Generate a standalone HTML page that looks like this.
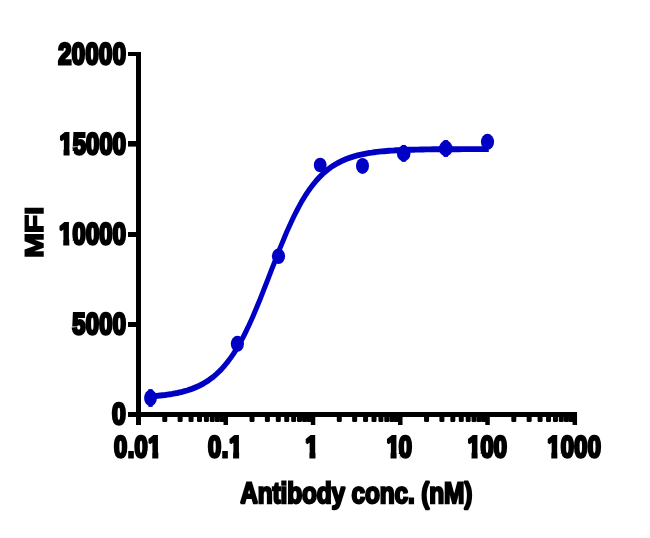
<!DOCTYPE html>
<html lang="en">
<head>
<meta charset="utf-8">
<title>Antibody binding curve</title>
<style>
html,body{margin:0;padding:0;background:#fff;}
body{width:650px;height:538px;overflow:hidden;}
svg{display:block;}
text{font-family:"Liberation Sans",Arial,Helvetica,sans-serif;font-weight:bold;fill:#000;stroke:#000;stroke-linejoin:miter;stroke-miterlimit:1.5;text-rendering:geometricPrecision;}
</style>
</head>
<body>
<svg width="650" height="538" viewBox="0 0 650 538">
<rect width="650" height="538" fill="#fff"/>
<g id="series" fill="#0000c4">
<path transform="scale(0.83,1)" d="M181.3,396.3 L184.3,396.2 L187.2,396.0 L190.1,395.8 L193.1,395.5 L196.0,395.2 L198.9,395.0 L201.9,394.6 L204.8,394.3 L207.7,393.9 L210.6,393.4 L213.6,393.0 L216.5,392.4 L219.4,391.9 L222.4,391.2 L225.3,390.5 L228.2,389.7 L231.2,388.9 L234.1,387.9 L237.0,386.9 L240.0,385.8 L242.9,384.5 L245.8,383.2 L248.8,381.7 L251.7,380.1 L254.6,378.3 L257.6,376.4 L260.5,374.3 L263.4,372.0 L266.4,369.6 L269.3,366.9 L272.2,364.0 L275.2,360.9 L278.1,357.6 L281.0,354.1 L284.0,350.3 L286.9,346.2 L289.8,341.9 L292.8,337.4 L295.7,332.6 L298.6,327.6 L301.5,322.3 L304.5,316.9 L307.4,311.2 L310.3,305.4 L313.3,299.4 L316.2,293.3 L319.1,287.1 L322.1,280.8 L325.0,274.5 L327.9,268.2 L330.9,261.9 L333.8,255.7 L336.7,249.5 L339.7,243.5 L342.6,237.6 L345.5,231.9 L348.5,226.4 L351.4,221.1 L354.3,216.0 L357.3,211.1 L360.2,206.5 L363.1,202.1 L366.1,198.0 L369.0,194.1 L371.9,190.5 L374.9,187.1 L377.8,184.0 L380.7,181.0 L383.7,178.3 L386.6,175.8 L389.5,173.4 L392.5,171.3 L395.4,169.3 L398.3,167.5 L401.2,165.8 L404.2,164.3 L407.1,162.9 L410.0,161.7 L413.0,160.5 L415.9,159.4 L418.8,158.5 L421.8,157.6 L424.7,156.8 L427.6,156.1 L430.6,155.4 L433.5,154.8 L436.4,154.3 L439.4,153.8 L442.3,153.3 L445.2,152.9 L448.2,152.6 L451.1,152.2 L454.0,151.9 L457.0,151.6 L459.9,151.4 L462.8,151.2 L465.8,151.0 L468.7,150.8 L471.6,150.6 L474.6,150.5 L477.5,150.3 L480.4,150.2 L483.4,150.1 L486.3,150.0 L489.2,149.9 L492.1,149.8 L495.1,149.8 L498.0,149.7 L500.9,149.6 L503.9,149.6 L506.8,149.5 L509.7,149.5 L512.7,149.4 L515.6,149.4 L518.5,149.4 L521.5,149.3 L524.4,149.3 L527.3,149.3 L530.3,149.3 L533.2,149.3 L536.1,149.2 L539.1,149.2 L542.0,149.2 L544.9,149.2 L547.9,149.2 L550.8,149.2 L553.7,149.2 L556.7,149.1 L559.6,149.1 L562.5,149.1 L565.5,149.1 L568.4,149.1 L571.3,149.1 L574.3,149.1 L577.2,149.1 L580.1,149.1 L583.1,149.1 L586.0,149.1 L588.9,149.1" fill="none" stroke="#0000c4" stroke-width="5.9" stroke-linejoin="round"/>
<ellipse cx="150.5" cy="398" rx="6.4" ry="8.2"/>
<rect x="148.4" y="389.10" width="4.2" height="17.80"/>
<ellipse cx="237.4" cy="343.8" rx="6.6" ry="8.0"/>
<ellipse cx="278.5" cy="256.2" rx="6.6" ry="7.7"/>
<ellipse cx="320.2" cy="165.0" rx="6.4" ry="7.3"/>
<ellipse cx="362.5" cy="165.9" rx="6.5" ry="8.0"/>
<ellipse cx="403.7" cy="153.4" rx="6.8" ry="7.9"/>
<rect x="401.6" y="144.95" width="4.2" height="16.90"/>
<ellipse cx="445.8" cy="148.5" rx="6.8" ry="7.9"/>
<rect x="443.7" y="140.05" width="4.2" height="16.90"/>
<ellipse cx="487.5" cy="141.8" rx="6.6" ry="8.0"/>
</g>
<g id="axes" fill="#000">
<rect x="136" y="52" width="5" height="373"/>
<rect x="128" y="412" width="449" height="5"/>
<rect x="128" y="52" width="9" height="4.00"/>
<rect x="128" y="141" width="9" height="5.60"/>
<rect x="128" y="232" width="9" height="5.00"/>
<rect x="128" y="322" width="9" height="5.00"/>
<rect x="162.27" y="414" width="5.0" height="8" rx="1.2"/>
<rect x="177.63" y="414" width="5.0" height="8" rx="1.2"/>
<rect x="188.54" y="414" width="5.0" height="8" rx="1.2"/>
<rect x="196.99" y="414" width="5.0" height="8" rx="1.2"/>
<rect x="203.90" y="414" width="5.0" height="8" rx="1.2"/>
<rect x="209.74" y="414" width="5.0" height="8" rx="1.2"/>
<rect x="214.80" y="414" width="5.0" height="8" rx="1.2"/>
<rect x="219.27" y="414" width="5.0" height="8" rx="1.2"/>
<rect x="223.51" y="414" width="4.5" height="11"/>
<rect x="249.53" y="414" width="5.0" height="8" rx="1.2"/>
<rect x="264.89" y="414" width="5.0" height="8" rx="1.2"/>
<rect x="275.80" y="414" width="5.0" height="8" rx="1.2"/>
<rect x="284.25" y="414" width="5.0" height="8" rx="1.2"/>
<rect x="291.16" y="414" width="5.0" height="8" rx="1.2"/>
<rect x="297.00" y="414" width="5.0" height="8" rx="1.2"/>
<rect x="302.06" y="414" width="5.0" height="8" rx="1.2"/>
<rect x="306.53" y="414" width="5.0" height="8" rx="1.2"/>
<rect x="310.77" y="414" width="4.5" height="11"/>
<rect x="336.79" y="414" width="5.0" height="8" rx="1.2"/>
<rect x="352.15" y="414" width="5.0" height="8" rx="1.2"/>
<rect x="363.06" y="414" width="5.0" height="8" rx="1.2"/>
<rect x="371.51" y="414" width="5.0" height="8" rx="1.2"/>
<rect x="378.42" y="414" width="5.0" height="8" rx="1.2"/>
<rect x="384.26" y="414" width="5.0" height="8" rx="1.2"/>
<rect x="389.32" y="414" width="5.0" height="8" rx="1.2"/>
<rect x="393.79" y="414" width="5.0" height="8" rx="1.2"/>
<rect x="398.03" y="414" width="4.5" height="11"/>
<rect x="424.05" y="414" width="5.0" height="8" rx="1.2"/>
<rect x="439.41" y="414" width="5.0" height="8" rx="1.2"/>
<rect x="450.32" y="414" width="5.0" height="8" rx="1.2"/>
<rect x="458.77" y="414" width="5.0" height="8" rx="1.2"/>
<rect x="465.68" y="414" width="5.0" height="8" rx="1.2"/>
<rect x="471.52" y="414" width="5.0" height="8" rx="1.2"/>
<rect x="476.58" y="414" width="5.0" height="8" rx="1.2"/>
<rect x="481.05" y="414" width="5.0" height="8" rx="1.2"/>
<rect x="485.29" y="414" width="4.5" height="11"/>
<rect x="511.31" y="414" width="5.0" height="8" rx="1.2"/>
<rect x="526.67" y="414" width="5.0" height="8" rx="1.2"/>
<rect x="537.58" y="414" width="5.0" height="8" rx="1.2"/>
<rect x="546.03" y="414" width="5.0" height="8" rx="1.2"/>
<rect x="552.94" y="414" width="5.0" height="8" rx="1.2"/>
<rect x="558.78" y="414" width="5.0" height="8" rx="1.2"/>
<rect x="563.84" y="414" width="5.0" height="8" rx="1.2"/>
<rect x="568.31" y="414" width="5.0" height="8" rx="1.2"/>
<rect x="572.55" y="414" width="4.5" height="11"/>
</g>
<g id="labels" font-size="29.8" stroke-width="2.9">
<g transform="translate(58.22,64.00) scale(0.796,1)"><text x="0.00 17.11 34.22 51.33 68.44" y="0">20000</text></g>
<g transform="translate(59.39,154.00) scale(0.796,1)"><text x="0.00 16.79 33.59 50.38 67.17" y="0">15000</text><rect x="-1.17" y="-5.69" width="6.38" height="8.94" fill="#fff"/><rect x="12.79" y="-5.69" width="3.87" height="2.79" fill="#fff"/><rect x="12.79" y="-3.00" width="5.47" height="6.25" fill="#fff"/></g>
<g transform="translate(59.10,244.00) scale(0.796,1)"><text x="0.00 16.84 33.68 50.52 67.36" y="0">10000</text><rect x="-1.17" y="-5.69" width="6.38" height="8.94" fill="#fff"/><rect x="12.79" y="-5.69" width="4.17" height="2.79" fill="#fff"/><rect x="12.79" y="-3.00" width="5.51" height="6.25" fill="#fff"/></g>
<g transform="translate(72.34,334.00) scale(0.796,1)"><text x="0.00 16.91 33.81 50.72" y="0">5000</text></g>
<g transform="translate(111.90,424.00) scale(0.83,1)"><text x="0.00" y="0">0</text></g>
<g transform="translate(114.09,457.00) scale(0.796,1)"><text x="0.00 17.02 25.74 42.76" y="0">0.01</text><rect x="41.58" y="-5.69" width="6.38" height="8.94" fill="#fff"/><rect x="55.55" y="-5.69" width="6.00" height="8.94" fill="#fff"/></g>
<g transform="translate(208.02,457.00) scale(0.796,1)"><text x="0.00 17.29 26.28" y="0">0.1</text><rect x="25.11" y="-5.69" width="6.38" height="8.94" fill="#fff"/><rect x="39.07" y="-5.69" width="6.00" height="8.94" fill="#fff"/></g>
<g transform="translate(305.28,457.00) scale(0.796,1)"><text x="0.00" y="0">1</text><rect x="-1.17" y="-5.69" width="6.38" height="8.94" fill="#fff"/><rect x="12.79" y="-5.69" width="6.00" height="8.94" fill="#fff"/></g>
<g transform="translate(386.39,457.00) scale(0.796,1)"><text x="0.00 15.49" y="0">10</text><rect x="-1.17" y="-5.69" width="6.38" height="8.94" fill="#fff"/><rect x="12.79" y="-5.69" width="2.82" height="2.79" fill="#fff"/><rect x="12.79" y="-3.00" width="4.16" height="6.25" fill="#fff"/></g>
<g transform="translate(467.39,457.00) scale(0.796,1)"><text x="0.00 16.59 33.18" y="0">100</text><rect x="-1.17" y="-5.69" width="6.38" height="8.94" fill="#fff"/><rect x="12.79" y="-5.69" width="3.93" height="2.79" fill="#fff"/><rect x="12.79" y="-3.00" width="5.27" height="6.25" fill="#fff"/></g>
<g transform="translate(547.14,457.00) scale(0.796,1)"><text x="0.00 17.01 34.01 51.02" y="0">1000</text><rect x="-1.17" y="-5.69" width="6.38" height="8.94" fill="#fff"/><rect x="12.79" y="-5.69" width="4.34" height="2.79" fill="#fff"/><rect x="12.79" y="-3.00" width="5.68" height="6.25" fill="#fff"/></g>
<text transform="translate(240.30,503.00) scale(0.83,1)" font-size="29.5" stroke-width="2.3" letter-spacing="-0.22">Antibody conc. (nM)</text>
<text transform="translate(43.2,257.94) scale(0.855,1) rotate(-90)" font-size="30.1" stroke-width="1.75" x="0 24.65 42.88" y="0">MFI</text>
</g>
</svg>
</body>
</html>
